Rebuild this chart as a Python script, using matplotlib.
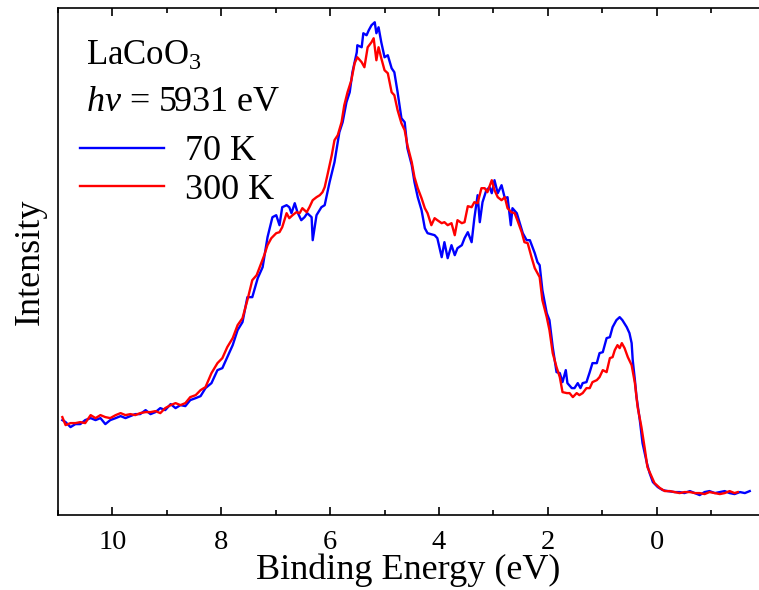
import numpy as np
import matplotlib
matplotlib.use("Agg")
import matplotlib.pyplot as plt
from matplotlib.ticker import MultipleLocator

plt.rcParams['font.family'] = ['Liberation Serif', 'DejaVu Serif']
plt.rcParams['mathtext.fontset'] = 'custom'
plt.rcParams['mathtext.rm'] = 'Liberation Serif'
plt.rcParams['mathtext.it'] = 'Liberation Serif:italic'

# binding energy (eV) and intensity (arb. units)
e_70 = [10.92, 10.86, 10.77, 10.68, 10.59, 10.50, 10.40, 10.31, 10.22, 10.13,
        10.04, 9.94, 9.85, 9.76, 9.67, 9.58, 9.49, 9.39, 9.30, 9.21,
        9.12, 9.03, 8.93, 8.84, 8.75, 8.66, 8.57, 8.47, 8.38, 8.29,
        8.18, 8.07, 7.98, 7.89, 7.79, 7.70, 7.61, 7.52, 7.43, 7.33,
        7.24, 7.15, 7.06, 6.99, 6.93, 6.88, 6.80, 6.75, 6.71, 6.65,
        6.60, 6.53, 6.47, 6.42, 6.34, 6.32, 6.25, 6.16, 6.10, 6.01,
        5.92, 5.83, 5.77, 5.70, 5.64, 5.59, 5.51, 5.50, 5.42, 5.39,
        5.33, 5.29, 5.24, 5.18, 5.15, 5.11, 5.06, 5.00, 4.94, 4.87,
        4.82, 4.76, 4.69, 4.63, 4.58, 4.50, 4.45, 4.39, 4.32, 4.26,
        4.21, 4.08, 4.03, 3.95, 3.90, 3.84, 3.77, 3.71, 3.66, 3.58,
        3.53, 3.47, 3.40, 3.35, 3.29, 3.25, 3.20, 3.13, 3.07, 3.03,
        2.98, 2.92, 2.85, 2.79, 2.74, 2.68, 2.65, 2.57, 2.52, 2.46,
        2.39, 2.33, 2.24, 2.19, 2.15, 2.10, 2.02, 1.97, 1.91, 1.84,
        1.78, 1.73, 1.67, 1.64, 1.56, 1.51, 1.45, 1.40, 1.36, 1.29,
        1.23, 1.18, 1.10, 1.05, 0.99, 0.92, 0.86, 0.81, 0.74, 0.68,
        0.63, 0.55, 0.50, 0.46, 0.44, 0.40, 0.37, 0.31, 0.26, 0.18,
        0.13, 0.07, -0.02, -0.11, -0.20, -0.33, -0.42, -0.51, -0.61, -0.70,
        -0.79, -0.88, -0.97, -1.07, -1.16, -1.25, -1.34, -1.43, -1.53, -1.62,
        -1.71]
i_70 = [95, 93, 88, 91, 91, 95, 97, 95, 97, 91,
        95, 97, 99, 97, 99, 101, 101, 105, 101, 103,
        107, 105, 111, 107, 110, 109, 115, 117, 119, 127,
        132, 145, 147, 158, 170, 185, 193, 218, 218, 237,
        248, 278, 298, 300, 290, 308, 310, 308, 302, 312,
        303, 295, 298, 302, 298, 275, 300, 308, 310, 333,
        353, 383, 393, 413, 423, 443, 463, 470, 468, 482,
        480, 485, 490, 493, 482, 488, 473, 458, 460, 447,
        443, 423, 397, 393, 367, 350, 333, 318, 305, 287,
        282, 280, 277, 258, 273, 257, 270, 260, 267, 270,
        277, 283, 273, 297, 320, 293, 313, 325, 328, 322,
        335, 322, 330, 317, 318, 290, 307, 302, 293, 282,
        275, 275, 262, 253, 250, 225, 202, 195, 168, 143,
        142, 133, 145, 132, 127, 127, 132, 127, 132, 133,
        143, 152, 152, 162, 163, 177, 178, 188, 195, 198,
        195, 188, 182, 172, 155, 135, 118, 95, 72, 52,
        42, 33, 28, 25, 24, 23, 23, 22, 24, 22,
        20, 23, 24, 22, 23, 24, 22, 21, 23, 22,
        24]

e_300 = [10.92, 10.86, 10.77, 10.68, 10.59, 10.50, 10.40, 10.31, 10.22, 10.13,
         10.04, 9.94, 9.85, 9.76, 9.67, 9.58, 9.49, 9.39, 9.30, 9.21,
         9.12, 9.03, 8.93, 8.84, 8.75, 8.66, 8.57, 8.47, 8.38, 8.29,
         8.18, 8.07, 7.98, 7.89, 7.79, 7.70, 7.61, 7.52, 7.43, 7.35,
         7.26, 7.21, 7.15, 7.08, 6.99, 6.93, 6.88, 6.80, 6.75, 6.69,
         6.62, 6.56, 6.51, 6.43, 6.38, 6.32, 6.25, 6.19, 6.14, 6.10,
         6.05, 5.97, 5.92, 5.86, 5.79, 5.74, 5.68, 5.61, 5.55, 5.50,
         5.42, 5.37, 5.31, 5.24, 5.20, 5.15, 5.11, 5.06, 5.00, 4.94,
         4.87, 4.82, 4.76, 4.69, 4.63, 4.58, 4.50, 4.45, 4.39, 4.32,
         4.26, 4.21, 4.14, 4.08, 4.03, 3.95, 3.90, 3.84, 3.77, 3.71,
         3.66, 3.58, 3.53, 3.47, 3.40, 3.35, 3.29, 3.22, 3.16, 3.11,
         3.03, 2.98, 2.92, 2.85, 2.79, 2.74, 2.67, 2.61, 2.56, 2.48,
         2.43, 2.37, 2.30, 2.24, 2.15, 2.10, 2.02, 1.97, 1.91, 1.84,
         1.78, 1.73, 1.65, 1.60, 1.54, 1.47, 1.42, 1.36, 1.29, 1.23,
         1.18, 1.10, 1.05, 0.99, 0.92, 0.86, 0.81, 0.77, 0.72, 0.68,
         0.64, 0.59, 0.53, 0.46, 0.40, 0.35, 0.28, 0.22, 0.17, 0.09,
         0.04, -0.06, -0.15, -0.24, -0.33, -0.42, -0.51, -0.61, -0.70, -0.79,
         -0.88, -0.97, -1.07, -1.16, -1.25, -1.34, -1.43, -1.49]
i_300 = [98, 90, 92, 92, 93, 92, 100, 97, 100, 98,
         97, 100, 102, 100, 101, 100, 102, 103, 103, 104,
         102, 107, 110, 112, 110, 112, 118, 120, 125, 128,
         142, 152, 157, 168, 177, 190, 197, 215, 235, 240,
         253, 260, 270, 277, 282, 283, 288, 302, 297, 300,
         303, 302, 307, 303, 308, 315, 318, 320, 323, 328,
         340, 360, 375, 380, 393, 410, 423, 435, 452, 458,
         453, 448, 468, 473, 477, 455, 468, 457, 445, 442,
         423, 420, 405, 392, 385, 370, 353, 338, 327, 317,
         307, 302, 290, 297, 295, 292, 293, 290, 292, 280,
         295, 292, 293, 309, 308, 313, 312, 327, 327, 323,
         335, 325, 318, 315, 318, 307, 303, 302, 295, 283,
         273, 272, 258, 247, 238, 215, 198, 185, 162, 148,
         138, 123, 122, 122, 118, 122, 120, 122, 127, 127,
         133, 135, 138, 145, 143, 157, 158, 165, 170, 167,
         172, 167, 158, 150, 132, 108, 88, 67, 48, 38,
         32, 27, 24, 24, 23, 22, 23, 23, 22, 22,
         21, 23, 22, 21, 22, 24, 22, 23]

fig = plt.figure(figsize=(7.59, 5.90), dpi=100)
ax = fig.add_axes([0.0764, 0.127, 0.9236, 0.859])

ax.plot(e_70, i_70, color='#0000ff', lw=1.7, label='70 K')
ax.plot(e_300, i_300, color='#ff0000', lw=1.7, label='300 K')

ax.set_xlim(11.0, -1.88)
ax.set_ylim(0, 507)

ax.xaxis.set_major_locator(MultipleLocator(2))
ax.xaxis.set_minor_locator(MultipleLocator(1))
ax.tick_params(axis='x', which='both', direction='in', top=True, bottom=True,
               labelsize=20.5, pad=11, width=1.2)
ax.tick_params(axis='x', which='major', length=6)
ax.tick_params(axis='x', which='minor', length=3.5)
ax.set_yticks([])
ax.spines['right'].set_visible(False)
for s in ['left', 'top', 'bottom']:
    ax.spines[s].set_linewidth(1.2)

ax.set_xlabel('Binding Energy (eV)', fontsize=26, labelpad=-1)
ax.set_ylabel('Intensity', fontsize=26, labelpad=8)

ax.text(0.04, 0.889, 'LaCoO$_3$', transform=ax.transAxes, fontsize=25)
ax.text(0.04, 0.798, '$h\\nu$ = 5931 eV', transform=ax.transAxes, fontsize=26)

ax.legend(loc='upper left', bbox_to_anchor=(-0.004, 0.80), frameon=False,
          fontsize=26, handlelength=2.3, handletextpad=0.6, labelspacing=0.15,
          borderaxespad=0.3)

plt.savefig('out.png', dpi=100)
